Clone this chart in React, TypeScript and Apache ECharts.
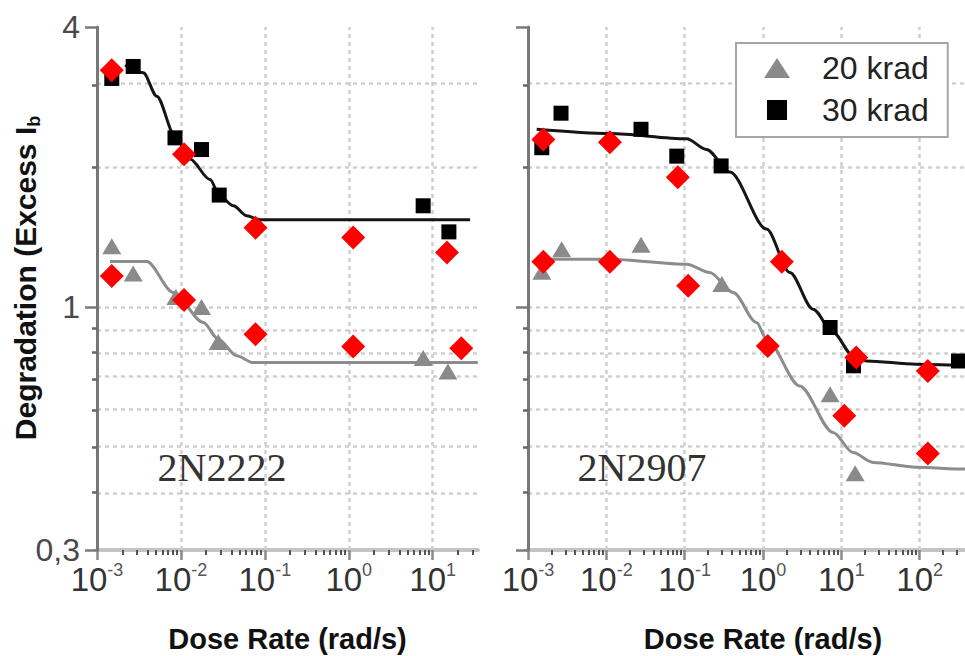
import React, { useEffect, useRef } from 'react';
import * as echarts from 'echarts';

// ---------------- data (dose rate in rad/s, degradation = excess Ib) ----------------
// Panel 2N2222
const L_TRI_RATE = [0.0015, 0.0027, 0.0087, 0.0176, 0.0278, 7.7, 15.2];
const L_TRI_DEG = [1.35, 1.18, 1.05, 1.0, 0.84, 0.776, 0.726];
const L_SQ_RATE = [0.0015, 0.0027, 0.0085, 0.0176, 0.0286, 7.7, 15.6];
const L_SQ_DEG = [3.1, 3.29, 2.31, 2.18, 1.74, 1.65, 1.45];
const L_DIA_HI_RATE = [0.0015, 0.0109, 0.0774, 1.13, 14.8];
const L_DIA_HI_DEG = [3.23, 2.13, 1.48, 1.41, 1.31];
const L_DIA_LO_RATE = [0.0015, 0.0109, 0.0774, 1.13, 21.9];
const L_DIA_LO_DEG = [1.166, 1.035, 0.873, 0.822, 0.815];
const L_FIT30_RATE = [0.00216, 0.00356, 0.00515, 0.00851, 0.0128, 0.0222, 0.0292, 0.0422, 0.0609, 0.0878, 27.9];
const L_FIT30_DEG = [3.31, 3.19, 2.84, 2.33, 2.08, 1.88, 1.73, 1.65, 1.57, 1.54, 1.54];
const L_FIT20_RATE = [0.00143, 0.00391, 0.00811, 0.0185, 0.0279, 0.0462, 0.0729, 34.5];
const L_FIT20_DEG = [1.252, 1.252, 1.074, 0.926, 0.852, 0.785, 0.759, 0.759];

// Panel 2N2907
const R_TRI_RATE = [0.0015, 0.00269, 0.0277, 0.298, 7.19, 15.0];
const R_TRI_DEG = [1.19, 1.33, 1.36, 1.12, 0.649, 0.439];
const R_SQ_RATE = [0.0015, 0.00264, 0.0277, 0.0793, 0.292, 7.19, 14.3, 313];
const R_SQ_DEG = [2.2, 2.61, 2.41, 2.11, 2.01, 0.903, 0.747, 0.765];
const R_DIA_HI_RATE = [0.00157, 0.0111, 0.0817, 1.74, 15.5, 127];
const R_DIA_HI_DEG = [2.29, 2.26, 1.9, 1.25, 0.778, 0.728];
const R_DIA_LO_RATE = [0.00157, 0.0111, 0.111, 1.15, 10.9, 127];
const R_DIA_LO_DEG = [1.25, 1.25, 1.11, 0.824, 0.583, 0.484];
const R_FIT30_RATE = [0.00129, 0.0111, 0.106, 0.19, 0.377, 1.11, 2.2, 4.36, 7.84, 14.1, 20.9, 90.8, 375, 1000];
const R_FIT30_DEG = [2.41, 2.36, 2.3, 2.18, 1.95, 1.47, 1.186, 0.989, 0.881, 0.785, 0.765, 0.753, 0.749, 0.748];
const R_FIT20_RATE = [0.00129, 0.0111, 0.106, 0.209, 0.416, 0.826, 1.11, 2.94, 7.84, 14.1, 25.4, 90.8, 375, 1000];
const R_FIT20_DEG = [1.266, 1.266, 1.235, 1.186, 1.074, 0.926, 0.852, 0.676, 0.537, 0.486, 0.463, 0.452, 0.448, 0.447];

// ---------------- axes ----------------
const X_MIN_EXP = -3;
const L_X_MAX_EXP = 1.54;
const R_X_MAX_EXP = 3;
const L_X_TICK_EXP = [-3, -2, -1, 0, 1];
const R_X_TICK_EXP = [-3, -2, -1, 0, 1, 2, 3];
const R_X_LABEL_EXP = [-3, -2, -1, 0, 1, 2];
const MINOR_MULT = [2, 3, 4, 5, 6, 7, 8, 9];
const Y_MIN = 0.3;
const Y_MAX = 4;
const Y_MAJOR = [0.3, 1, 4];
const Y_MAJOR_LABELS = ['0,3', '1', '4'];
const Y_MINOR = [0.4, 0.5, 0.6, 0.7, 0.8, 0.9, 2, 3];
const Y_GRID = [0.4, 0.5, 0.6, 0.7, 0.8, 0.9, 1, 2, 3];
const LEGEND_NAMES = ['20 krad', '30 krad'];
const X_TITLE = 'Dose Rate (rad/s)';
const PANEL_NAMES = ['2N2222', '2N2907'];

const FONT = 'Liberation Sans, Arial, Helvetica, sans-serif';
const lg = (v: number) => Math.log10(v);
const pts = (r: number[], d: number[]) => r.map((x, i) => [lg(x), lg(d[i])]);

function minorTicks(maxExp: number) {
  const out: number[] = [];
  for (let e = X_MIN_EXP; e < maxExp; e++) {
    for (const m of MINOR_MULT) {
      const v = e + lg(m);
      if (v <= maxExp) out.push(v);
    }
  }
  return out;
}

function xAxes(grid: number, maxExp: number, majors: number[], labels: number[]) {
  return [
    {
      gridIndex: grid, type: 'value', position: 'bottom', min: X_MIN_EXP, max: maxExp, z: 0,
      axisLine: { show: true, onZero: false, lineStyle: { color: '#c4c4c4', width: 4 } },
      axisTick: { show: true, customValues: majors, length: 10, lineStyle: { color: '#8a8a8a', width: 2.5 } },
      axisLabel: {
        show: true, customValues: labels, margin: 11,
        formatter: (v: number) => `{b|10}{s|${Math.round(v)}}`,
        rich: {
          b: { fontSize: 33, color: '#333', fontFamily: FONT, lineHeight: 36 },
          s: { fontSize: 18, color: '#555', fontFamily: FONT, verticalAlign: 'top', lineHeight: 20 },
        },
      },
      splitLine: { show: false },
      name: X_TITLE, nameLocation: 'middle', nameGap: 74,
      nameTextStyle: { fontSize: 29, fontWeight: 'bold', color: '#111', fontFamily: FONT },
    },
    {
      gridIndex: grid, type: 'value', position: 'bottom', min: X_MIN_EXP, max: maxExp, z: 0,
      axisLine: { show: false, onZero: false },
      axisTick: { show: true, customValues: minorTicks(maxExp), length: 5, lineStyle: { color: '#555', width: 2 } },
      axisLabel: { show: false },
      splitLine: { show: false },
    },
  ];
}

function yAxes(grid: number, showLabels: boolean) {
  return [
    {
      gridIndex: grid, type: 'value', position: 'left', min: lg(Y_MIN), max: lg(Y_MAX), z: 1,
      axisLine: { show: true, onZero: false, lineStyle: { color: '#777', width: 3 } },
      axisTick: { show: true, customValues: Y_MAJOR.map(lg), length: 12, lineStyle: { color: '#7a7a7a', width: 2.5 } },
      axisLabel: {
        show: showLabels, customValues: Y_MAJOR.map(lg), margin: 17, fontSize: 32, color: '#4a4a4a', fontFamily: FONT,
        formatter: (v: number) => {
          const i = Y_MAJOR.findIndex((t) => Math.abs(lg(t) - v) < 1e-6);
          return i >= 0 ? Y_MAJOR_LABELS[i] : '';
        },
      },
      splitLine: { show: false },
    },
    {
      gridIndex: grid, type: 'value', position: 'left', min: lg(Y_MIN), max: lg(Y_MAX), z: 1,
      axisLine: { show: false, onZero: false },
      axisTick: { show: true, customValues: Y_MINOR.map(lg), length: 5, lineStyle: { color: '#666', width: 2.5 } },
      axisLabel: { show: false },
      splitLine: { show: false },
    },
  ];
}

function panelSeries(axisIdx: number, majors: number[], d: any) {
  const common = { xAxisIndex: axisIdx, yAxisIndex: axisIdx };
  const gridLines = [
    ...majors.filter((e) => e > X_MIN_EXP).map((e) => ({ xAxis: e })),
    ...Y_GRID.map((v) => ({ yAxis: lg(v) })),
  ];
  return [
    {
      ...common, type: 'line', data: [[X_MIN_EXP, lg(Y_MIN)]], showSymbol: false, silent: true, z: 1,
      lineStyle: { opacity: 0 },
      markLine: {
        silent: true, z: 1, symbol: ['none', 'none'], label: { show: false },
        lineStyle: { color: '#cfcfcf', width: 2.5, type: [4, 4] },
        emphasis: { disabled: true },
        data: gridLines,
      },
    },
    {
      ...common, type: 'line', data: d.fit20, showSymbol: false, smooth: 0.3, smoothMonotone: 'x', z: 3,
      lineStyle: { color: '#8c8c8c', width: 3 }, silent: true,
    },
    {
      ...common, type: 'line', data: d.fit30, showSymbol: false, smooth: 0.3, smoothMonotone: 'x', z: 3,
      lineStyle: { color: '#151515', width: 3 }, silent: true,
    },
    {
      ...common, name: LEGEND_NAMES[0], type: 'scatter', data: d.tri, symbol: 'triangle', symbolSize: [19, 16], z: 4,
      itemStyle: { color: '#8a8a8a', opacity: 1 },
    },
    {
      ...common, name: LEGEND_NAMES[1], type: 'scatter', data: d.sq, symbol: 'rect', symbolSize: 15, z: 4,
      itemStyle: { color: '#000', opacity: 1 },
    },
    {
      ...common, type: 'scatter', data: d.diaHi, symbol: 'diamond', symbolSize: 24, z: 5,
      itemStyle: { color: '#ff0000', opacity: 1 },
    },
    {
      ...common, type: 'scatter', data: d.diaLo, symbol: 'diamond', symbolSize: 24, z: 5,
      itemStyle: { color: '#ff0000', opacity: 1 },
    },
  ];
}

export default function App() {
  const ref = useRef<HTMLDivElement>(null);
  useEffect(() => {
    if (!ref.current) return;
    const chart = echarts.init(ref.current, undefined, { renderer: 'svg' });
    const left = {
      tri: pts(L_TRI_RATE, L_TRI_DEG), sq: pts(L_SQ_RATE, L_SQ_DEG),
      diaHi: pts(L_DIA_HI_RATE, L_DIA_HI_DEG), diaLo: pts(L_DIA_LO_RATE, L_DIA_LO_DEG),
      fit30: pts(L_FIT30_RATE, L_FIT30_DEG), fit20: pts(L_FIT20_RATE, L_FIT20_DEG),
    };
    const right = {
      tri: pts(R_TRI_RATE, R_TRI_DEG), sq: pts(R_SQ_RATE, R_SQ_DEG),
      diaHi: pts(R_DIA_HI_RATE, R_DIA_HI_DEG), diaLo: pts(R_DIA_LO_RATE, R_DIA_LO_DEG),
      fit30: pts(R_FIT30_RATE, R_FIT30_DEG), fit20: pts(R_FIT20_RATE, R_FIT20_DEG),
    };
    const option: any = {
      animation: false,
      backgroundColor: '#ffffff',
      textStyle: { fontFamily: FONT },
      grid: [
        { left: 97, top: 27, width: 381, height: 523, outerBoundsMode: 'none', containLabel: false },
        { left: 528, top: 27, width: 470, height: 523, outerBoundsMode: 'none', containLabel: false },
      ],
      xAxis: [...xAxes(0, L_X_MAX_EXP, L_X_TICK_EXP, L_X_TICK_EXP), ...xAxes(1, R_X_MAX_EXP, R_X_TICK_EXP, R_X_LABEL_EXP)],
      yAxis: [...yAxes(0, true), ...yAxes(1, false)],
      legend: {
        orient: 'vertical', left: 736, top: 43, z: 10,
        data: [
          { name: LEGEND_NAMES[0], icon: 'triangle' },
          { name: LEGEND_NAMES[1], icon: 'path://M0 0H10V10H0Z' },
        ],
        itemWidth: 26, itemHeight: 20, itemGap: 6,
        padding: [7, 19, 9, 28],
        borderColor: '#a6a6a6', borderWidth: 2, backgroundColor: '#fff',
        selectedMode: false,
        textStyle: { fontSize: 32, color: '#222', fontFamily: FONT, padding: [0, 0, 0, 27], lineHeight: 36 },
      },
      graphic: [
        {
          type: 'text', x: 25, y: 278, rotation: Math.PI / 2, z: 10,
          style: {
            text: '{t|Degradation (Excess I}{u|b}',
            align: 'center', verticalAlign: 'middle',
            rich: {
              t: { fontSize: 30, fontWeight: 'bold', fill: '#111', fontFamily: FONT, lineHeight: 36 },
              u: { fontSize: 18, fontWeight: 'bold', fill: '#111', fontFamily: FONT, lineHeight: 18, verticalAlign: 'bottom' },
            },
          },
        },
        {
          type: 'text', x: 222, y: 467, z: 10,
          style: { text: PANEL_NAMES[0], fontSize: 40, fontFamily: 'Liberation Serif, Times New Roman, serif', fill: '#333', align: 'center', verticalAlign: 'middle' },
        },
        {
          type: 'text', x: 642, y: 467, z: 10,
          style: { text: PANEL_NAMES[1], fontSize: 40, fontFamily: 'Liberation Serif, Times New Roman, serif', fill: '#333', align: 'center', verticalAlign: 'middle' },
        },
      ],
      series: [...panelSeries(0, L_X_TICK_EXP, left), ...panelSeries(2, R_X_TICK_EXP, right)],
    };
    chart.setOption(option);
    return () => chart.dispose();
  }, []);
  return (
    <div
      ref={ref}
      style={{ position: 'fixed', left: 0, top: 0, width: 965, height: 656, background: '#fff' }}
    />
  );
}
